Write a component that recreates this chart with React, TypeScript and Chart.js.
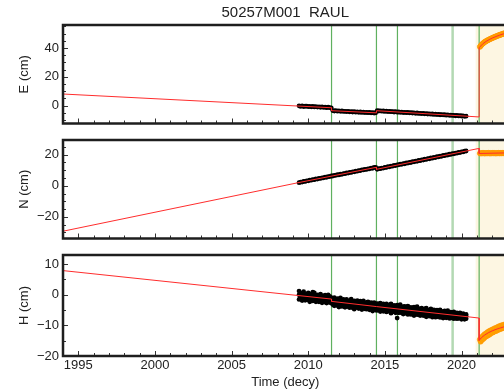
import React, { useEffect, useRef } from 'react';
import { Chart, registerables } from 'chart.js';

Chart.register(...registerables);

// ---------- data ----------
const TITLE = '50257M001  RAUL';
const X_MIN = 1994;
const X_MAX = 2023;
const X_TICKS = [1995, 2000, 2005, 2010, 2015, 2020];
const X_LABEL = 'Time (decy)';

const EVENTS = [2011.52, 2014.45, 2015.82, 2019.42, 2021.15];
const EVENT_KIND = ['eq', 'eq', 'eq', 'equip', 'eq'];
const SHADE_START = 2020.92;

const T_GNSS = [
  2009.4, 2009.5, 2009.6, 2009.7, 2009.8, 2009.9,
  2010.0, 2010.1, 2010.2, 2010.3, 2010.4, 2010.5, 2010.6, 2010.7, 2010.8, 2010.9,
  2011.0, 2011.1, 2011.2, 2011.3, 2011.4, 2011.5, 2011.6, 2011.7, 2011.8, 2011.9,
  2012.0, 2012.1, 2012.2, 2012.3, 2012.4, 2012.5, 2012.6, 2012.7, 2012.8, 2012.9,
  2013.0, 2013.1, 2013.2, 2013.3, 2013.4, 2013.5, 2013.6, 2013.7, 2013.8, 2013.9,
  2014.0, 2014.1, 2014.2, 2014.3, 2014.4, 2014.5, 2014.6, 2014.7, 2014.8, 2014.9,
  2015.0, 2015.1, 2015.2, 2015.3, 2015.4, 2015.5, 2015.6, 2015.7, 2015.8, 2015.9,
  2016.0, 2016.1, 2016.2, 2016.3, 2016.4, 2016.5, 2016.6, 2016.7, 2016.8, 2016.9,
  2017.0, 2017.1, 2017.2, 2017.3, 2017.4, 2017.5, 2017.6, 2017.7, 2017.8, 2017.9,
  2018.0, 2018.1, 2018.2, 2018.3, 2018.4, 2018.5, 2018.6, 2018.7, 2018.8, 2018.9,
  2019.0, 2019.1, 2019.2, 2019.3, 2019.4, 2019.5, 2019.6, 2019.7, 2019.8, 2019.9,
  2020.0, 2020.1, 2020.2, 2020.3,
];

const T_POST = [
  2021.2, 2021.25, 2021.3, 2021.35, 2021.4, 2021.45, 2021.5, 2021.55, 2021.6, 2021.65,
  2021.7, 2021.75, 2021.8, 2021.85, 2021.9, 2021.95, 2022.0, 2022.05, 2022.1, 2022.15,
  2022.2, 2022.25, 2022.3, 2022.35, 2022.4, 2022.45, 2022.5, 2022.55, 2022.6, 2022.65,
  2022.7, 2022.75, 2022.8, 2022.85, 2022.9, 2022.95,
];

// East
const E_OBS = [
  -0.2, -0.6, -0.3, -0.7, -0.5, -0.4, -0.8, -0.6, -0.9, -0.6, -1.0, -0.8, -1.1, -0.9, -1.2, -0.9,
  -1.3, -1.1, -1.5, -1.2, -1.4, -1.6,
  -3.5, -3.8, -3.6, -3.9, -3.7, -4.0, -3.8, -4.1, -4.0, -4.2, -4.0, -4.4, -4.2, -4.5, -4.3, -4.6,
  -4.4, -4.7, -4.5, -4.8, -4.6, -4.9, -4.7, -5.0, -4.8, -5.1, -4.9, -5.2, -5.1,
  -3.5, -3.8, -3.7, -3.9, -3.8, -4.1, -3.9, -4.2, -4.1, -4.3, -4.2, -4.5, -4.3, -4.6, -4.5, -4.7,
  -4.6, -4.9, -4.7, -5.0, -4.8, -5.1, -5.0, -5.2, -5.1, -5.4, -5.2, -5.5, -5.4, -5.6, -5.5, -5.8,
  -5.6, -5.9, -5.8, -6.0, -5.9, -6.2, -6.0, -6.3, -6.1, -6.4, -6.3, -6.5, -6.4, -6.7, -6.5, -6.8,
  -6.7, -6.9, -6.8, -7.1, -6.9, -7.2, -7.1, -7.3, -7.2, -7.5, -7.4,
];
const E_POST = [
  40.8, 41.5, 42.2, 42.7, 43.2, 43.6, 44.1, 44.4, 44.8, 45.0,
  45.4, 45.6, 45.9, 46.2, 46.4, 46.7, 46.9, 47.2, 47.4, 47.6,
  47.9, 48.0, 48.3, 48.5, 48.7, 48.9, 49.1, 49.3, 49.5, 49.7,
  49.9, 50.0, 50.2, 50.4, 50.5, 50.7,
];
const E_MODEL_X = [1994, 2011.52, 2011.52, 2014.45, 2014.45, 2021.15, 2021.15, 2021.25, 2021.4, 2021.6, 2021.8, 2022.0, 2022.25, 2022.5, 2022.75, 2023];
const E_MODEL_Y = [8.0, -1.55, -3.6, -5.1, -3.6, -7.95, 40.2, 41.4, 43.0, 44.6, 45.8, 46.9, 48.0, 49.0, 49.9, 50.8];
const E_TICKS = [0, 20, 40];

// North
const N_OBS = [
  2.0, 2.4, 2.4, 2.8, 2.8, 3.2, 3.2, 3.6, 3.6, 4.0, 3.9, 4.4, 4.3, 4.8, 4.7, 5.1, 5.1, 5.6, 5.5, 5.9,
  5.9, 6.3, 6.3, 6.7, 6.7, 7.1, 7.0, 7.5, 7.4, 7.8, 7.8, 8.3, 8.2, 8.6, 8.6, 9.0, 9.0, 9.4, 9.4, 9.8,
  9.8, 10.2, 10.2, 10.6, 10.5, 10.9, 10.9, 11.4, 11.3, 11.8, 11.9,
  10.6, 11.0, 11.0, 11.4, 11.4, 11.8, 11.8, 12.3, 12.2, 12.7, 12.6, 13.1, 13.0, 13.5, 13.5, 13.9,
  13.8, 14.3, 14.2, 14.7, 14.6, 15.1, 15.0, 15.5, 15.4, 15.9, 15.8, 16.3, 16.2, 16.7, 16.6, 17.1,
  17.0, 17.5, 17.4, 17.9, 17.8, 18.3, 18.2, 18.7, 18.6, 19.1, 19.0, 19.5, 19.4, 19.9, 19.8, 20.3,
  20.2, 20.7, 20.6, 21.1, 21.0, 21.5, 21.4, 21.9, 21.8, 22.3, 22.4,
];
const N_POST = [
  20.9, 21.1, 20.8, 21.0, 21.2, 20.9, 21.0, 20.8, 21.1, 21.0,
  20.9, 21.2, 21.0, 20.8, 21.1, 20.9, 21.0, 21.2, 20.9, 21.1,
  21.0, 20.8, 21.1, 21.0, 21.2, 20.9, 21.0, 21.1, 20.9, 21.2,
  21.0, 21.1, 20.9, 21.2, 21.0, 21.1,
];
const N_MODEL_X = [1994, 2009.4, 2014.45, 2014.45, 2021.15, 2021.15, 2023];
const N_MODEL_Y = [-29.3, 2.1, 11.9, 10.6, 24.1, 20.8, 21.2];
const N_TICKS = [-20, 0, 20];

// Up
const H_OBS_A = [
  1.2, 0.2, 0.5, 1.0, -0.1, 0.2, 0.6, -0.1, 0.3, 0.9, 0.6, -0.2, 0.0, -0.5, 0.2, -0.3, -0.8, -0.1,
  -0.7, 0.0, -0.5, -0.9,
  -1.3, -0.9, -1.8, -1.3, -1.7, -1.0, -2.1, -1.5, -1.8, -1.5, -2.1, -1.9, -1.4, -2.4, -2.0, -2.3,
  -1.9, -2.7, -2.1, -2.5, -2.0, -2.8, -2.5, -2.3, -3.0, -2.6, -3.0, -2.6, -3.0,
  -2.9, -3.3, -2.7, -3.2, -3.0, -3.6, -3.0, -3.3, -3.9, -3.0, -3.7, -3.5, -3.9, -3.4, -3.8, -3.2,
  -4.3, -3.9, -3.8, -4.2, -3.7, -4.4, -4.1, -4.4, -4.0, -4.8, -3.9, -4.5, -4.7, -4.4, -4.9, -4.6,
  -4.4, -5.2, -4.9, -4.6, -5.2, -4.9, -5.4, -5.0, -5.3, -4.9, -5.7, -5.4, -5.3, -5.7, -5.2, -5.9,
  -5.7, -5.8, -5.6, -6.2, -5.9, -6.1, -5.9, -6.4, -6.2, -6.6, -6.4,
];
const H_OBS_B = [
  -1.5, -1.0, -1.9, -1.4, -1.8, -1.1, -1.7, -2.3, -1.4, -2.0, -1.7, -2.3, -1.5, -2.3, -2.0, -2.6,
  -2.0, -2.4, -2.7, -2.0, -2.5, -2.7,
  -3.2, -3.6, -3.0, -3.5, -4.0, -3.2, -3.8, -3.7, -4.1, -3.3, -3.9, -4.2, -3.8, -4.2, -4.7, -3.8,
  -4.2, -4.5, -4.2, -4.8, -4.0, -4.6, -4.7, -4.4, -4.9, -4.7, -5.3, -4.5, -5.0,
  -5.1, -4.7, -5.5, -5.0, -5.4, -4.8, -5.6, -5.3, -5.2, -6.0, -5.6, -5.3, -5.9, -7.6, -5.9, -5.7,
  -5.9, -6.3, -5.7, -6.1, -6.4, -5.9, -6.4, -6.3, -6.8, -6.1, -6.5, -6.4, -6.8, -6.4, -6.8, -6.7,
  -7.2, -6.5, -7.0, -6.8, -7.3, -6.8, -7.3, -7.2, -6.9, -7.4, -7.2, -7.6, -7.2, -7.5, -7.2, -7.7,
  -7.6, -7.5, -7.8, -7.5, -7.8, -7.7, -7.6, -8.0, -7.8, -8.0, -7.8,
];
const H_OBS_C = [
  0.0, -0.8, -0.3, -0.7, -0.1, -0.9, -0.6, -0.2, -1.1, -0.6, -0.9, -0.6, -1.4, -0.9, -0.6, -1.3,
  -1.0, -1.6, -1.0, -1.4, -1.3, -1.7,
  -2.5, -2.0, -2.8, -1.9, -2.5, -2.1, -2.9, -2.5, -2.1, -2.9, -2.5, -3.2, -2.6, -3.0, -2.6, -3.3,
  -3.1, -2.8, -3.7, -3.1, -3.5, -3.0, -3.7, -3.4, -3.9, -3.3, -3.8, -3.5, -4.1,
  -3.7, -4.3, -3.7, -4.1, -3.6, -4.4, -4.1, -4.7, -4.0, -4.4, -4.7, -4.1, -4.7, -4.4, -5.0, -4.6,
  -4.5, -5.1, -4.9, -4.5, -5.2, -4.8, -5.6, -4.9, -5.3, -5.1, -5.7, -5.0, -5.6, -5.4, -5.8, -5.3,
  -5.8, -6.1, -5.6, -5.8, -6.2, -5.6, -6.2, -6.0, -6.5, -6.0, -6.2, -6.6, -6.0, -6.5, -6.3, -6.9,
  -6.4, -6.8, -6.7, -6.4, -7.1, -6.7, -7.1, -6.8, -7.1, -7.4, -7.0,
];
const H_POST = [
  -14.6, -15.3, -13.9, -14.7, -13.4, -14.3, -12.9, -13.8, -12.6, -13.5,
  -12.2, -13.2, -11.9, -12.9, -11.6, -12.5, -11.4, -12.3, -11.1, -12.0,
  -10.9, -11.8, -10.7, -11.6, -10.4, -11.3, -10.2, -11.2, -10.0, -10.9,
  -9.9, -10.8, -9.7, -10.6, -9.6, -10.4,
];
const H_MODEL_X = [1994, 2011.52, 2011.52, 2014.45, 2021.15, 2021.15, 2021.3, 2021.5, 2021.75, 2022.0, 2022.25, 2022.5, 2022.75, 2023];
const H_MODEL_Y = [7.9, -1.4, -2.15, -3.85, -7.6, -14.9, -14.0, -13.2, -12.4, -11.8, -11.3, -10.9, -10.5, -10.2];
const H_TICKS = [-20, -10, 0, 10];

// ---------- styling ----------
const FONT = "'Liberation Sans', Arial, Helvetica, sans-serif";
const TXT = '#222';
const CANVAS_W = 512;

const pts = (xs: number[], ys: number[]) => ys.map((y, i) => ({ x: xs[i], y }));
const fmt = (v: any) => String(v).replace('-', '\u2212');

const backPlugin = {
  id: 'back',
  beforeDatasetsDraw(chart: any) {
    const { ctx, chartArea: a, scales } = chart;
    const xs = scales.x;
    ctx.save();
    ctx.beginPath();
    ctx.rect(a.left, a.top, a.right - a.left, a.bottom - a.top);
    ctx.clip();
    const sx = xs.getPixelForValue(SHADE_START);
    ctx.fillStyle = '#fdf6e2';
    ctx.fillRect(sx, a.top, a.right - sx, a.bottom - a.top);
    EVENTS.forEach((ev, i) => {
      const px = xs.getPixelForValue(ev);
      const kind = EVENT_KIND[i];
      ctx.strokeStyle = kind === 'equip' ? '#b3d9b3' : '#5fb05f';
      ctx.lineWidth = kind === 'equip' ? 2.5 : 1.2;
      ctx.beginPath();
      ctx.moveTo(px, a.top);
      ctx.lineTo(px, a.bottom);
      ctx.stroke();
    });
    ctx.restore();
  },
};

const framePlugin = {
  id: 'frame',
  afterDraw(chart: any, _args: any, opts: any) {
    const { ctx, chartArea: a, scales } = chart;
    const xs = scales.x;
    const ys = scales.y;
    ctx.save();
    ctx.strokeStyle = '#333';
    ctx.lineWidth = 1;
    for (let yr = Math.ceil(xs.min); yr <= xs.max; yr++) {
      const px = Math.round(xs.getPixelForValue(yr)) + 0.5;
      const len = yr % 5 === 0 ? 5 : 3;
      ctx.beginPath();
      ctx.moveTo(px, a.bottom);
      ctx.lineTo(px, a.bottom - len);
      ctx.stroke();
    }
    const step = opts.minor || 5;
    for (let v = Math.ceil(ys.min / step) * step; v <= ys.max; v += step) {
      const py = Math.round(ys.getPixelForValue(v)) + 0.5;
      const len = (opts.major || []).includes(v) ? 5 : 3;
      ctx.beginPath();
      ctx.moveTo(a.left, py);
      ctx.lineTo(a.left + len, py);
      ctx.stroke();
    }
    ctx.strokeStyle = '#1e1e1e';
    ctx.lineWidth = 2.5;
    ctx.strokeRect(a.left, a.top, a.right - a.left, a.bottom - a.top);
    ctx.restore();
  },
};

type Spec = {
  height: number;
  padTop: number;
  padBottom: number;
  yLabel: string;
  yMin: number;
  yMax: number;
  yTicks: number[];
  obs: number[][];
  post: number[];
  mx: number[];
  my: number[];
  title?: string;
  xLabels?: boolean;
};

function build(canvas: HTMLCanvasElement, s: Spec) {
  const datasets: any[] = [
    {
      type: 'scatter',
      data: pts(s.mx, s.my),
      showLine: true,
      borderColor: 'rgb(255,45,45)',
      borderWidth: 1,
      pointRadius: 0,
      order: 0,
    },
    ...s.obs.map((arr) => ({
      type: 'scatter',
      data: pts(T_GNSS, arr),
      backgroundColor: '#000',
      borderWidth: 0,
      pointRadius: 2.4,
      pointStyle: 'circle',
      order: 1,
    })),
    {
      type: 'scatter',
      data: pts(T_POST, s.post),
      backgroundColor: '#ffa400',
      borderColor: '#ff9000',
      borderWidth: 0.5,
      pointRadius: 2.6,
      order: 2,
    },
  ];
  return new Chart(canvas, {
    type: 'scatter',
    data: { datasets },
    plugins: [backPlugin, framePlugin],
    options: {
      animation: false,
      responsive: false,
      devicePixelRatio: 1,
      layout: { padding: { top: s.padTop, bottom: s.padBottom, left: 0, right: 1.5 } },
      plugins: {
        legend: { display: false },
        tooltip: { enabled: false },
        title: {
          display: !!s.title,
          text: s.title || '',
          fullSize: false,
          color: TXT,
          font: { family: FONT, size: 15, weight: 'normal' },
          padding: { top: 4, bottom: 3 },
        },
        frame: { minor: 5, major: s.yTicks },
      } as any,
      scales: {
        x: {
          type: 'linear',
          min: X_MIN,
          max: X_MAX,
          display: !!s.xLabels,
          afterFit: (sc: any) => {
            sc.height = s.xLabels ? 34 : 0;
            sc.paddingLeft = 0;
            sc.paddingRight = 0;
          },
          afterBuildTicks: (sc: any) => {
            sc.ticks = X_TICKS.map((v) => ({ value: v }));
          },
          grid: { display: false, drawTicks: false },
          border: { display: false },
          ticks: {
            color: TXT,
            font: { family: FONT, size: 13 },
            padding: 2,
            maxRotation: 0,
            autoSkip: false,
            callback: (v: any) => String(v),
          },
          title: {
            display: true,
            text: X_LABEL,
            color: TXT,
            font: { family: FONT, size: 13 },
            padding: { top: 0, bottom: 0 },
          },
        },
        y: {
          type: 'linear',
          min: s.yMin,
          max: s.yMax,
          afterFit: (sc: any) => {
            sc.width = 63;
            sc.paddingTop = 0;
            sc.paddingBottom = 0;
          },
          afterBuildTicks: (sc: any) => {
            sc.ticks = s.yTicks.map((v) => ({ value: v }));
          },
          grid: { display: false, drawTicks: false },
          border: { display: false },
          ticks: {
            color: TXT,
            font: { family: FONT, size: 13 },
            padding: 4,
            callback: fmt,
          },
          title: {
            display: true,
            text: s.yLabel,
            color: TXT,
            font: { family: FONT, size: 13 },
            padding: { top: 17, bottom: 0 },
          },
        },
      },
    } as any,
  });
}

const SPECS: (Spec & { top: number })[] = [
  {
    top: 0, height: 128, padTop: 0, padBottom: 0.5,
    yLabel: 'E (cm)', yMin: -12.5, yMax: 56, yTicks: E_TICKS,
    obs: [E_OBS], post: E_POST, mx: E_MODEL_X, my: E_MODEL_Y, title: TITLE,
  },
  {
    top: 130, height: 113, padTop: 10, padBottom: 0.5,
    yLabel: 'N (cm)', yMin: -34, yMax: 29.5, yTicks: N_TICKS,
    obs: [N_OBS], post: N_POST, mx: N_MODEL_X, my: N_MODEL_Y,
  },
  {
    top: 250, height: 140, padTop: 5, padBottom: 0,
    yLabel: 'H (cm)', yMin: -20, yMax: 13, yTicks: H_TICKS,
    obs: [H_OBS_A, H_OBS_B, H_OBS_C], post: H_POST, mx: H_MODEL_X, my: H_MODEL_Y, xLabels: true,
  },
];

export default function App() {
  const refs = [useRef<HTMLCanvasElement>(null), useRef<HTMLCanvasElement>(null), useRef<HTMLCanvasElement>(null)];
  useEffect(() => {
    const charts = SPECS.map((s, i) => build(refs[i].current as HTMLCanvasElement, s));
    return () => charts.forEach((c) => c.destroy());
  }, []);
  return (
    <div style={{ position: 'fixed', left: 0, top: 0, width: 504, height: 390, overflow: 'hidden', background: '#fff' }}>
      {SPECS.map((s, i) => (
        <canvas
          key={i}
          ref={refs[i]}
          width={CANVAS_W}
          height={s.height}
          style={{ position: 'absolute', left: 0, top: s.top, width: CANVAS_W, height: s.height }}
        />
      ))}
    </div>
  );
}
